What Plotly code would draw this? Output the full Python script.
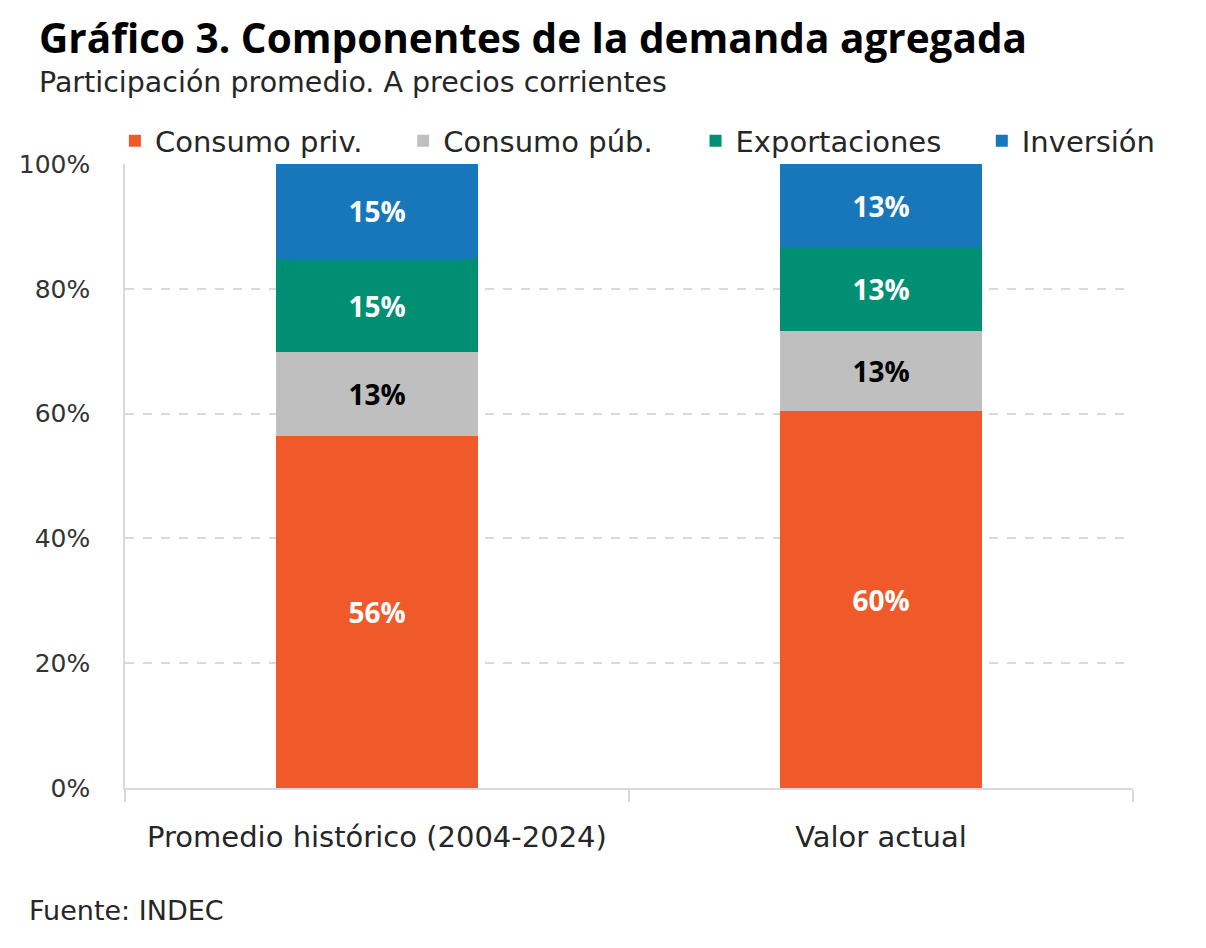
import plotly.graph_objects as go

# categories and series (share of aggregate demand, %)
categorias = ["Promedio histórico (2004-2024)", "Valor actual"]
consumo_priv = [56.4, 60.4]
consumo_pub = [13.4, 12.8]
exportaciones = [15.0, 13.4]
inversion = [15.2, 13.4]
ticks_y = [0, 20, 40, 60, 80, 100]
ticks_y_txt = ["0%", "20%", "40%", "60%", "80%", "100%"]

# name, values, colour, label colour, legend id, legend x
series = [
    ("Consumo priv.", consumo_priv, "#F05A2B", "white", "legend", -0.01),
    ("Consumo púb.", consumo_pub, "#BFBFBF", "black", "legend2", 0.276),
    ("Exportaciones", exportaciones, "#008F73", "white", "legend3", 0.566),
    ("Inversión", inversion, "#1877BB", "white", "legend4", 0.85),
]

FONT = "DejaVu Sans"
BOLD = "Open Sans"

fig = go.Figure()
for name, vals, color, txtcolor, leg, lx in series:
    fig.add_trace(go.Bar(
        x=categorias, y=vals, name=name, legend=leg,
        marker=dict(color=color, line=dict(width=0)),
        texttemplate="%{y:.0f}%", textposition="inside",
        insidetextanchor="middle", textangle=0,
        textfont=dict(family=BOLD, size=28, color=txtcolor, weight=700),
        width=0.4,
    ))

legends = {}
for name, vals, color, txtcolor, leg, lx in series:
    legends[leg] = dict(orientation="h", x=lx, y=1.037, xanchor="left", yanchor="middle",
                        font=dict(size=29, color="#262626"), itemwidth=30,
                        bgcolor="rgba(0,0,0,0)")

fig.update_layout(
    barmode="stack",
    width=1190, height=932,
    margin=dict(l=117, r=65, t=156, b=152),
    plot_bgcolor="white", paper_bgcolor="white",
    font=dict(family=FONT, color="#262626"),
    showlegend=True,
    annotations=[
        dict(text="<b>Gráfico 3. Componentes de la demanda agregada</b>", xref="paper", yref="paper",
             x=-0.087, y=1.25, xanchor="left", yanchor="top", showarrow=False,
             font=dict(family=BOLD, size=40.5, color="black", weight=800)),
        dict(text="Participación promedio. A precios corrientes", xref="paper", yref="paper",
             x=-0.087, y=1.131, xanchor="left", yanchor="middle", showarrow=False,
             font=dict(size=28.5, color="#262626")),
        dict(text="Fuente: INDEC", xref="paper", yref="paper",
             x=-0.097, y=-0.196, xanchor="left", yanchor="middle", showarrow=False,
             font=dict(size=27, color="#262626")),
    ],
    **legends,
)

fig.update_yaxes(
    range=[0, 100], tickvals=ticks_y, ticktext=ticks_y_txt,
    showgrid=True, gridcolor="#D9D9D9", griddash="dash", gridwidth=1.5,
    zeroline=False, showline=True, linecolor="#D9D9D9", linewidth=1.5,
    tickfont=dict(size=25, color="#333333"), ticks="", ticklabelstandoff=28,
)
fig.update_xaxes(
    showline=True, linecolor="#D9D9D9", linewidth=2,
    ticks="outside", tickson="boundaries", ticklen=12, tickcolor="#D9D9D9", tickwidth=2,
    tickfont=dict(size=29, color="#262626"), ticklabelstandoff=22,
)

fig.write_html("out.html")
